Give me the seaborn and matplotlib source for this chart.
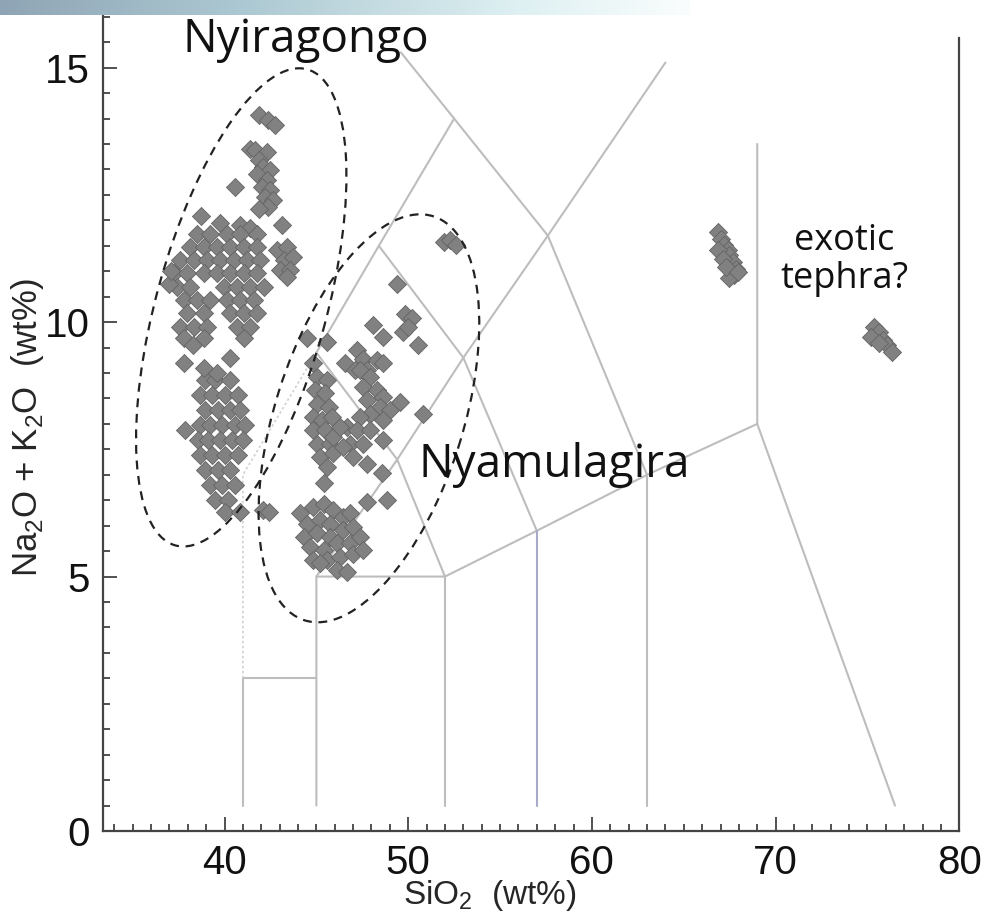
import numpy as np
import pandas as pd
import seaborn as sns
import matplotlib.pyplot as plt
from matplotlib.patches import Ellipse
from matplotlib.transforms import ScaledTranslation
from matplotlib.ticker import MultipleLocator

# ---- data (SiO2 wt%, Na2O+K2O wt%) ----
nyi_sio2 = [41.85, 42.39, 42.76, 41.40, 41.67, 42.30, 41.85, 42.12, 42.48, 41.76, 42.30, 42.03, 42.48,
            42.21, 42.66, 42.39, 41.85, 40.58, 43.12, 42.85, 43.39, 43.21, 43.75, 43.03, 43.57, 43.39,
            38.70, 39.77, 40.86, 41.40,
            38.50, 39.23, 40.13, 40.86, 41.76,
            38.14, 38.86, 39.59, 40.31, 41.04, 41.76,
            37.60, 38.32, 39.05, 39.77, 40.50, 41.22, 41.95,
            37.24, 37.96, 38.86, 39.59, 40.31, 41.04, 41.76,
            37.42, 38.14, 39.95, 40.68, 41.40, 42.13,
            37.78, 38.50, 39.23, 40.13, 40.86, 41.58,
            37.96, 38.86, 40.31, 41.04, 41.76,
            37.60, 38.32, 39.05, 40.68, 41.40,
            37.78, 38.86, 41.04, 36.95, 37.10, 37.80, 38.30,
            38.95, 39.49, 40.31,
            38.68, 39.33, 40.04, 40.74,
            38.95, 39.66, 40.31, 40.85,
            38.68, 39.22, 39.88, 40.58, 41.12,
            38.57, 39.11, 39.77, 40.42, 41.02,
            38.68, 39.33, 40.04, 40.74,
            38.95, 39.66, 40.31,
            39.22, 39.88, 40.58,
            39.49, 40.20,
            40.04, 40.85,
            37.87, 38.90, 39.60, 40.30, 42.12, 42.40]
nyi_alk = [14.07, 13.97, 13.87, 13.41, 13.38, 13.35, 13.18, 13.05, 12.99, 12.92, 12.79, 12.66, 12.59,
           12.46, 12.40, 12.27, 12.23, 12.66, 11.90, 11.41, 11.48, 11.22, 11.28, 11.02, 11.02, 10.89,
           12.08, 11.94, 11.90, 11.84,
           11.74, 11.74, 11.74, 11.74, 11.74,
           11.48, 11.48, 11.48, 11.48, 11.48, 11.48,
           11.22, 11.22, 11.22, 11.22, 11.22, 11.22, 11.22,
           10.96, 10.96, 10.96, 10.96, 10.96, 10.96, 10.96,
           10.69, 10.69, 10.69, 10.69, 10.69, 10.69,
           10.43, 10.43, 10.43, 10.43, 10.43, 10.43,
           10.17, 10.17, 10.17, 10.17, 10.17,
           9.91, 9.91, 9.91, 9.91, 9.91,
           9.68, 9.68, 9.68, 10.75, 11.00, 9.20, 9.55,
           8.86, 8.86, 8.86,
           8.57, 8.57, 8.57, 8.57,
           8.27, 8.27, 8.27, 8.27,
           7.98, 7.98, 7.98, 7.98, 7.98,
           7.68, 7.68, 7.68, 7.68, 7.68,
           7.39, 7.39, 7.39, 7.39,
           7.09, 7.09, 7.09,
           6.80, 6.80, 6.80,
           6.50, 6.50,
           6.27, 6.27,
           7.88, 9.10, 9.00, 9.30, 6.30, 6.27]

nya_sio2 = [44.48, 45.57, 48.65, 49.73, 50.55, 46.56, 47.20, 47.56, 48.28, 48.65, 47.11, 47.74,
            44.84, 45.02, 45.57, 44.93, 45.48, 45.02, 45.66, 44.84, 45.29, 45.84, 44.84, 45.48,
            45.02, 45.75, 45.20, 45.93, 45.57, 45.39,
            47.38, 47.92, 47.56, 48.28, 48.65, 47.74, 48.47, 49.01, 47.92, 48.65, 47.38, 46.65,
            47.20, 47.92, 48.65, 46.83, 47.56, 46.47, 45.93, 46.29, 47.74, 47.02,
            49.55, 50.82, 48.56, 47.74, 48.83,
            44.12, 44.84, 45.39, 45.93, 44.48, 45.20, 45.75, 46.47, 46.83, 44.30, 45.02, 45.75,
            46.47, 47.02, 44.66, 45.39, 46.11, 46.83, 47.38, 44.84, 45.57, 46.29, 47.02, 47.56,
            46.11, 46.65, 45.20,
            49.39, 49.82, 50.20, 49.98, 48.10, 51.95, 52.27, 52.60]
nya_alk = [9.68, 9.61, 9.71, 9.81, 9.55, 9.19, 9.45, 9.28, 9.25, 9.19, 9.05, 9.05,
           9.19, 8.92, 8.86, 8.66, 8.60, 8.40, 8.33, 8.14, 8.07, 8.14, 7.88, 7.88,
           7.61, 7.61, 7.35, 7.42, 7.15, 6.83,
           9.05, 8.92, 8.73, 8.66, 8.53, 8.46, 8.33, 8.27, 8.20, 8.07, 8.14, 7.94,
           7.88, 7.88, 7.68, 7.61, 7.61, 7.55, 7.74, 7.94, 7.22, 7.35,
           8.43, 8.20, 7.03, 6.47, 6.50,
           6.24, 6.37, 6.43, 6.30, 6.04, 6.11, 6.04, 6.17, 6.24, 5.78, 5.85, 5.78,
           5.91, 5.98, 5.58, 5.52, 5.65, 5.65, 5.78, 5.32, 5.32, 5.39, 5.45, 5.52,
           5.12, 5.09, 5.26,
           10.75, 10.16, 10.08, 9.90, 9.94, 11.57, 11.61, 11.51]

exo_sio2 = [66.85, 67.03, 67.21, 67.39, 67.48, 67.66, 67.85, 67.76, 67.48, 66.85, 67.12, 67.30, 67.93,
            75.36, 75.64, 75.18, 75.82, 76.09, 76.36, 75.64]
exo_alk = [11.77, 11.64, 11.51, 11.41, 11.32, 11.18, 11.05, 10.92, 10.86, 11.41, 11.25, 11.09, 10.99,
           9.91, 9.81, 9.71, 9.65, 9.55, 9.42, 9.58]

# TAS field boundaries (vertices)
tas_x = [[41, 41, 45], [45, 45, 52, 57, 63, 69], [52, 52], [63, 63], [69, 69, 76.5],
         [45, 49.4, 53, 57.6, 64], [52, 49.4, 45], [45, 48.4, 52.5, 49.6],
         [48.4, 53, 57], [52.5, 57.6, 63]]
tas_y = [[0.5, 3, 3], [0.5, 5, 5, 5.9, 7, 8], [0.5, 5], [0.5, 7], [13.5, 8, 0.5],
         [5, 7.3, 9.3, 11.7, 15.1], [5, 7.3, 9.4], [9.4, 11.5, 14, 15.3],
         [11.5, 9.3, 5.9], [14, 11.7, 7]]
tas57_x = [57, 57]
tas57_y = [0.5, 5.9]
dot_x = [41, 41, 45]
dot_y = [3, 7, 9.4]

df = pd.DataFrame({
    'SiO2': nyi_sio2 + nya_sio2 + exo_sio2,
    'alk': nyi_alk + nya_alk + exo_alk,
})

sns.set_theme(style='ticks')
plt.rcParams['font.family'] = ['Liberation Sans', 'DejaVu Sans']
plt.rcParams['mathtext.fontset'] = 'custom'
plt.rcParams['mathtext.rm'] = 'Liberation Sans'

fig = plt.figure(figsize=(9.81, 9.21), dpi=100)
ax = fig.add_axes([103.3 / 981, 90 / 921, (959.3 - 103.3) / 981, 831 / 921])

for xs, ys in zip(tas_x, tas_y):
    ax.plot(xs, ys, color='#bdbdbd', lw=1.5, zorder=1)
ax.plot(tas57_x, tas57_y, color='#a9a9c9', lw=1.5, zorder=1)
ax.plot(dot_x, dot_y, color='#d0d0d0', lw=1.2, ls=(0, (1.5, 1.5)), zorder=1)

sns.scatterplot(data=df, x='SiO2', y='alk', marker='D', s=85, color='#818181',
                edgecolor='#646464', linewidth=0.6, ax=ax, legend=False, zorder=3)

# dashed ellipses (centre in data units, axes in inches)
for cx, cy, w, h, ang in [(40.91, 10.29, 4.94, 1.70, 74.5), (47.86, 8.11, 4.24, 1.88, 72.3)]:
    e = Ellipse((0, 0), w, h, angle=ang, fill=False, ec='#222222', lw=1.6, ls=(0, (4, 3)),
                transform=fig.dpi_scale_trans + ScaledTranslation(cx, cy, ax.transData), zorder=4)
    ax.add_patch(e)

ax.text(44.4, 15.55, 'Nyiragongo', fontsize=33, family='Open Sans', color='#111111',
        ha='center', va='center', zorder=5)
ax.text(57.97, 7.2, 'Nyamulagira', fontsize=33, family='Open Sans', color='#111111',
        ha='center', va='center', zorder=5)
ax.text(73.73, 11.22, 'exotic\ntephra?', fontsize=26, family='Open Sans', color='#111111',
        ha='center', va='center', linespacing=1.05, zorder=5)

ax.set_xlim(33.4, 80)
ax.set_ylim(0, 16.33)
ax.xaxis.set_major_locator(MultipleLocator(10))
ax.xaxis.set_minor_locator(MultipleLocator(1))
ax.yaxis.set_major_locator(MultipleLocator(5))
ax.yaxis.set_minor_locator(MultipleLocator(0.5))
ax.tick_params(which='both', direction='in', color='#333333', width=1.2, labelsize=29,
               labelcolor='#111111')
ax.tick_params(which='major', length=10)
ax.tick_params(which='minor', length=5)
ax.tick_params(axis='x', pad=9)
ax.tick_params(axis='y', pad=10)
ax.spines['top'].set_visible(False)
ax.spines['right'].set_bounds(0, 15.58)
for s in ['left', 'bottom', 'right']:
    ax.spines[s].set_linewidth(1.6)
    ax.spines[s].set_color('#444444')

ax.set_xlabel('SiO$_\\mathregular{2}$  (wt%)', fontsize=24)
ax.xaxis.set_label_coords(0.452, -0.056)
ax.set_ylabel('Na$_\\mathregular{2}$O + K$_\\mathregular{2}$O  (wt%)', fontsize=25)
ax.yaxis.set_label_coords(-0.067, 0.485)

# slide banner strip at the top
band = fig.add_axes([0, 1 - 15 / 921, 690 / 981, 15 / 921])
t = np.linspace(0, 1, 300)
anchors = [0, 0.35, 0.75, 1]
cols = np.array([[143, 165, 181], [172, 200, 210], [222, 240, 242], [250, 253, 253]]) / 255
rgb = np.stack([np.interp(t, anchors, cols[:, i]) for i in range(3)], axis=-1)
band.imshow(rgb[None, :, :], aspect='auto')
band.axis('off')

fig.savefig('out.png', dpi=100)
